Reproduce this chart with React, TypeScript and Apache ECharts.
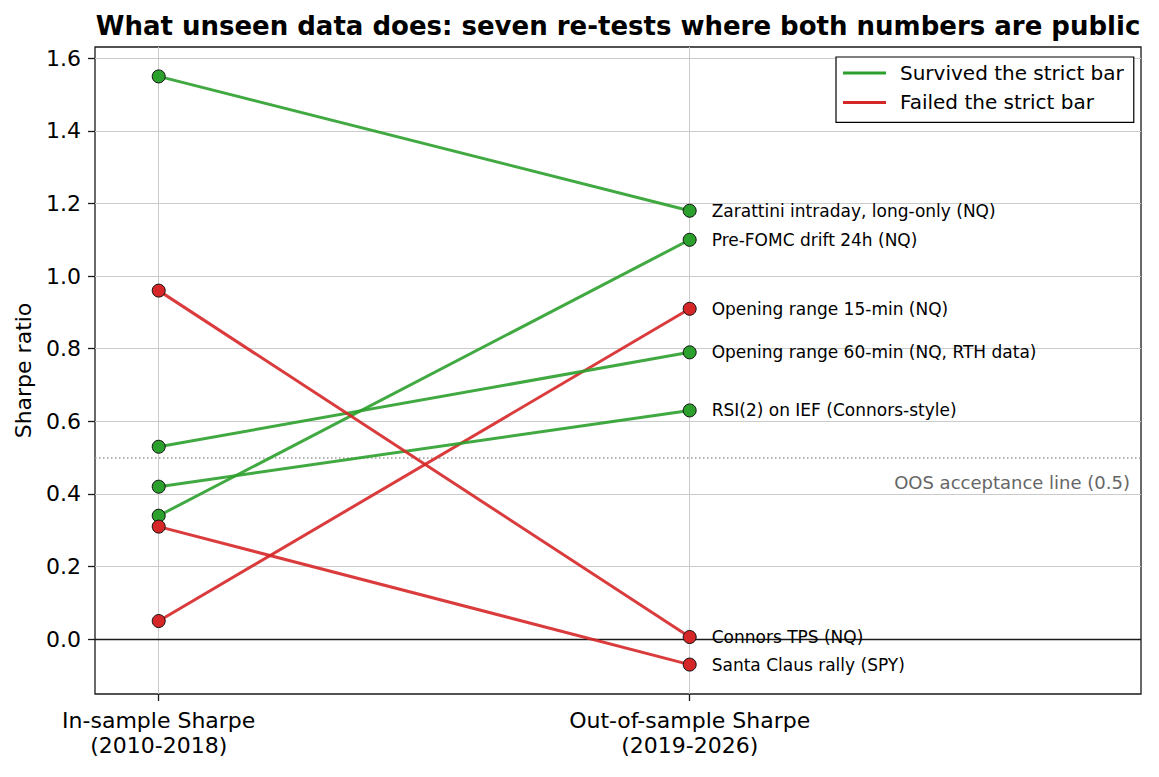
import React, { useEffect, useRef } from 'react';
import * as echarts from 'echarts';

const titleText = 'What unseen data does: seven re-tests where both numbers are public';
const stageLabels = ['In-sample Sharpe\n(2010-2018)', 'Out-of-sample Sharpe\n(2019-2026)'];
const strategies = [
  'Zarattini intraday, long-only (NQ)',
  'Pre-FOMC drift 24h (NQ)',
  'Opening range 15-min (NQ)',
  'Opening range 60-min (NQ, RTH data)',
  'RSI(2) on IEF (Connors-style)',
  'Connors TPS (NQ)',
  'Santa Claus rally (SPY)',
];
const inSample = [1.55, 0.34, 0.05, 0.53, 0.42, 0.96, 0.31];
const outOfSample = [1.18, 1.1, 0.91, 0.79, 0.63, 0.006, -0.07];
const survived = [true, true, false, true, true, false, false];
const groupNames = ['Survived the strict bar', 'Failed the strict bar'];
const yTicks = [0, 0.2, 0.4, 0.6, 0.8, 1.0, 1.2, 1.4, 1.6];
const stageTicks = [0, 1];
const acceptanceLine = 0.5;
const acceptanceLabel = 'OOS acceptance line (0.5)';
const yAxisName = 'Sharpe ratio';

const GREEN = '#2ca02c';
const RED = '#d62728';
const FONT = '"DejaVu Sans", Verdana, sans-serif';

export default function App() {
  const ref = useRef<HTMLDivElement>(null);

  useEffect(() => {
    if (!ref.current) return;
    const chart = echarts.init(ref.current, undefined, { renderer: 'svg' });

    const series: any[] = strategies.map((name, i) => {
      const color = survived[i] ? GREEN : RED;
      const s: any = {
        type: 'line',
        name: survived[i] ? groupNames[0] : groupNames[1],
        data: [
          { value: [stageTicks[0], inSample[i]] },
          { value: [stageTicks[1], outOfSample[i]], name, label: { show: true } },
        ],
        symbol: 'circle',
        symbolSize: 13,
        itemStyle: { color, borderColor: '#111', borderWidth: 1 },
        lineStyle: { color, width: 3, opacity: 0.9 },
        label: {
          show: false,
          position: 'right',
          distance: 15,
          formatter: '{b}',
          fontSize: 17,
          fontFamily: FONT,
          color: '#000',
        },
        emphasis: { disabled: true },
        z: 3,
      };
      if (i === 0) {
        s.markLine = {
          silent: true,
          symbol: 'none',
          animation: false,
          z: 2,
          data: [
            {
              yAxis: 0,
              lineStyle: { color: '#1a1a1a', width: 1.3, type: 'solid' },
              label: { show: false },
            },
            {
              yAxis: acceptanceLine,
              lineStyle: { color: '#999', width: 1.5, type: [1.5, 2.5] },
              label: {
                show: true,
                position: 'insideEndBottom',
                formatter: acceptanceLabel,
                fontSize: 18,
                fontFamily: FONT,
                color: '#666',
                distance: [11, 16],
              },
            },
          ],
        };
      }
      return s;
    });

    chart.setOption({
      animation: false,
      backgroundColor: '#fff',
      textStyle: { fontFamily: FONT },
      graphic: [
        {
          type: 'text',
          x: 618,
          y: 26,
          style: {
            text: titleText,
            fontSize: 26,
            fontWeight: 'bold',
            fontFamily: FONT,
            fill: '#000',
            align: 'center',
            verticalAlign: 'middle',
          },
        },
      ],
      grid: {
        left: 95,
        right: 18,
        top: 47,
        bottom: 83,
        show: true,
        borderColor: '#1a1a1a',
        borderWidth: 1.3,
        backgroundColor: 'transparent',
        containLabel: false,
        outerBoundsMode: 'none',
      },
      legend: {
        data: groupNames.map((n, i) => ({
          name: n,
          icon: 'rect',
          itemStyle: { color: i === 0 ? GREEN : RED, borderWidth: 0 },
        })),
        orient: 'vertical',
        left: 836,
        top: 57,
        padding: [6, 10, 10, 7],
        itemWidth: 43,
        itemHeight: 3,
        itemGap: 9.4,
        borderColor: '#000',
        borderWidth: 1.2,
        borderRadius: 0,
        backgroundColor: '#fff',
        selectedMode: false,
        textStyle: { fontSize: 20, lineHeight: 20, color: '#000', fontFamily: FONT, padding: [0, 0, 0, 9] },
      },
      xAxis: {
        type: 'value',
        min: -0.12,
        max: 1.85,
        axisLine: { show: false, onZero: false },
        axisTick: { show: true, customValues: stageTicks, length: 7, lineStyle: { color: '#1a1a1a', width: 1.3 } },
        axisLabel: {
          customValues: stageTicks,
          formatter: (v: number) => stageLabels[Math.round(v)] ?? '',
          fontSize: 22,
          lineHeight: 25,
          color: '#000',
          fontFamily: FONT,
          margin: 14,
        },
        splitLine: { show: true, lineStyle: { color: '#cbcbcb', width: 1 } },
      },
      yAxis: {
        type: 'value',
        min: -0.151,
        max: 1.631,
        name: yAxisName,
        nameLocation: 'middle',
        nameGap: 61,
        nameTextStyle: { fontSize: 22, color: '#000', fontFamily: FONT },
        axisLine: { show: false, onZero: false },
        axisTick: { show: true, customValues: yTicks, length: 7, lineStyle: { color: '#1a1a1a', width: 1.3 } },
        axisLabel: {
          customValues: yTicks,
          formatter: (v: number) => v.toFixed(1),
          fontSize: 22,
          color: '#000',
          fontFamily: FONT,
          margin: 14,
        },
        splitLine: { show: true, lineStyle: { color: '#cbcbcb', width: 1 } },
      },
      series,
    });

    return () => chart.dispose();
  }, []);

  return (
    <div
      ref={ref}
      style={{ position: 'absolute', left: 0, top: 0, width: 1159, height: 777 }}
    />
  );
}
